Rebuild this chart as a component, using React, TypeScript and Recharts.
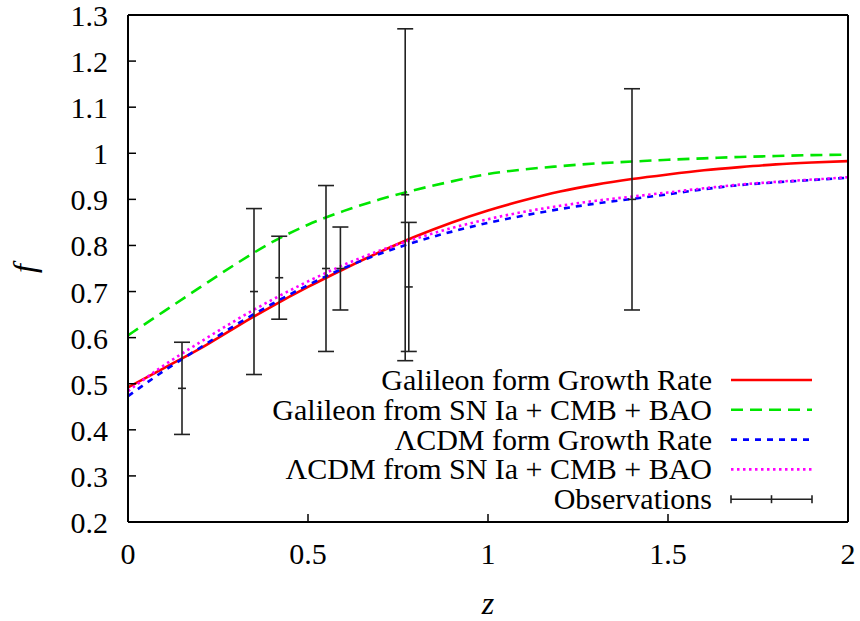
import { ComposedChart, ErrorBar, Legend, Line, Scatter, XAxis, YAxis } from "recharts";

const FONT = '"Liberation Serif"';
const textStyle = { fontFamily: FONT, fontSize: 30 };

// redshift grid the model curves are sampled on
const zGrid = [0, 0.1, 0.2, 0.3, 0.4, 0.5, 0.6, 0.7, 0.8, 0.9, 1.0, 1.1, 1.2, 1.3, 1.4, 1.5, 1.6, 1.7, 1.8, 1.9, 2.0];

const galileonGrowth = [0.492, 0.534, 0.576, 0.623, 0.668, 0.71, 0.749, 0.786, 0.82, 0.85, 0.876, 0.898, 0.917, 0.932, 0.944, 0.954, 0.963, 0.97, 0.976, 0.98, 0.983];
const galileonSn = [0.605, 0.657, 0.709, 0.76, 0.807, 0.845, 0.875, 0.9, 0.921, 0.939, 0.955, 0.965, 0.972, 0.978, 0.982, 0.986, 0.989, 0.992, 0.994, 0.996, 0.997];
const lcdmGrowth = [0.473, 0.528, 0.578, 0.628, 0.673, 0.714, 0.751, 0.782, 0.808, 0.83, 0.849, 0.865, 0.879, 0.891, 0.901, 0.911, 0.922, 0.931, 0.937, 0.942, 0.947];
const lcdmSn = [0.484, 0.54, 0.59, 0.638, 0.682, 0.722, 0.758, 0.789, 0.815, 0.838, 0.857, 0.873, 0.886, 0.897, 0.906, 0.915, 0.924, 0.932, 0.938, 0.943, 0.948];

const obsZ = [0.15, 0.35, 0.42, 0.55, 0.59, 0.77, 0.78, 1.4];
const obsF = [0.49, 0.7, 0.73, 0.75, 0.75, 0.91, 0.71, 0.9];
const obsErr = [0.1, 0.18, 0.09, 0.18, 0.09, 0.36, 0.14, 0.24];

const xTicks = [0, 0.5, 1, 1.5, 2];
const yTicks = [0.2, 0.3, 0.4, 0.5, 0.6, 0.7, 0.8, 0.9, 1, 1.1, 1.2, 1.3];

const series = [
  { name: "Galileon form Growth Rate", values: galileonGrowth, color: "#ff0000", dash: undefined },
  { name: "Galileon from SN Ia + CMB + BAO", values: galileonSn, color: "#00e600", dash: "12 7" },
  { name: "ΛCDM form Growth Rate", values: lcdmGrowth, color: "#0000ff", dash: "6 6" },
  { name: "ΛCDM from SN Ia + CMB + BAO", values: lcdmSn, color: "#ff00ff", dash: "2.5 3.5" },
];

const observations = obsZ.map((z, i) => ({ z, f: obsF[i], err: obsErr[i] }));

function LeftTick({ x, y, payload }: any) {
  return (
    <g>
      <line x1={x} x2={x + 8} y1={y} y2={y} stroke="#000" strokeWidth={1.5} />
      <text x={x - 20} y={y + 11} textAnchor="end" style={textStyle} fill="#000">
        {String(payload.value)}
      </text>
    </g>
  );
}

function BottomTick({ x, y, payload }: any) {
  return (
    <g>
      <line x1={x} x2={x} y1={y} y2={y - 8} stroke="#000" strokeWidth={1.5} />
      <text x={x} y={y + 42} textAnchor="middle" style={textStyle} fill="#000">
        {String(payload.value)}
      </text>
    </g>
  );
}

function RightTick({ x, y }: any) {
  return <line x1={x} x2={x - 8} y1={y} y2={y} stroke="#333" strokeWidth={1.5} />;
}

function TopTick({ x, y }: any) {
  return <line x1={x} x2={x} y1={y} y2={y + 8} stroke="#333" strokeWidth={1.5} />;
}

function YLabel({ viewBox }: any) {
  const cx = viewBox.x + 25;
  const cy = viewBox.y + viewBox.height / 2;
  return (
    <text
      x={cx}
      y={cy}
      dy="0.3em"
      textAnchor="middle"
      transform={`rotate(-90 ${cx} ${cy})`}
      style={{ fontFamily: FONT, fontSize: 32, fontStyle: "italic" }}
      fill="#000"
    >
      f
    </text>
  );
}

function XLabel({ viewBox }: any) {
  return (
    <text
      x={viewBox.x + viewBox.width / 2}
      y={viewBox.y + 92}
      textAnchor="middle"
      style={{ fontFamily: FONT, fontSize: 32, fontStyle: "italic" }}
      fill="#000"
    >
      z
    </text>
  );
}

function ObsMark({ cx, cy }: any) {
  return <line x1={cx - 4} x2={cx + 4} y1={cy} y2={cy} stroke="#222" strokeWidth={1.6} />;
}

function PlotLegend() {
  const rowY = (i: number) => 20 + i * 29.8;
  return (
    <svg width={500} height={160} style={{ overflow: "visible" }}>
      {series.map((s, i) => (
        <g key={s.name}>
          <text x={382} y={rowY(i) + 10} textAnchor="end" style={textStyle} fill="#000">
            {s.name}
          </text>
          <line
            x1={401}
            x2={482}
            y1={rowY(i)}
            y2={rowY(i)}
            stroke={s.color}
            strokeWidth={2.6}
            strokeDasharray={s.dash}
          />
        </g>
      ))}
      <text x={382} y={rowY(4) + 10} textAnchor="end" style={textStyle} fill="#000">
        Observations
      </text>
      <g stroke="#222" strokeWidth={1.6}>
        <line x1={401} x2={482} y1={rowY(4)} y2={rowY(4)} />
        <line x1={401} x2={401} y1={rowY(4) - 4} y2={rowY(4) + 4} />
        <line x1={441.5} x2={441.5} y1={rowY(4) - 4} y2={rowY(4) + 4} />
        <line x1={482} x2={482} y1={rowY(4) - 4} y2={rowY(4) + 4} />
      </g>
    </svg>
  );
}

export default function App() {
  return (
    <div style={{ position: "absolute", left: 0, top: 0, background: "#fff", fontFamily: FONT }}>
      <ComposedChart width={860} height={621} margin={{ top: 0, right: 0, bottom: 0, left: 0 }}>
        <XAxis
          dataKey="z"
          type="number"
          domain={[0, 2]}
          ticks={xTicks}
          interval={0}
          height={99}
          tickSize={0}
          tickMargin={0}
          tick={<BottomTick />}
          axisLine={{ stroke: "#000", strokeWidth: 2 }}
          label={<XLabel />}
        />
        <XAxis
          xAxisId="top"
          orientation="top"
          type="number"
          domain={[0, 2]}
          ticks={xTicks}
          interval={0}
          height={15}
          tickSize={0}
          tickMargin={0}
          tick={<TopTick />}
          axisLine={{ stroke: "#000", strokeWidth: 2 }}
        />
        <YAxis
          type="number"
          domain={[0.2, 1.3]}
          ticks={yTicks}
          interval={0}
          width={128}
          tickSize={0}
          tickMargin={0}
          tick={<LeftTick />}
          axisLine={{ stroke: "#000", strokeWidth: 2 }}
          label={<YLabel />}
        />
        <YAxis
          yAxisId="right"
          orientation="right"
          type="number"
          domain={[0.2, 1.3]}
          ticks={yTicks}
          interval={0}
          width={12}
          tickSize={0}
          tickMargin={0}
          tick={<RightTick />}
          axisLine={{ stroke: "#000", strokeWidth: 2 }}
        />
        {series.map((s) => (
          <Line
            key={s.name}
            data={zGrid.map((z, i) => ({ z, f: s.values[i] }))}
            dataKey="f"
            type="monotone"
            stroke={s.color}
            strokeWidth={2.6}
            strokeDasharray={s.dash}
            dot={false}
            activeDot={false}
            isAnimationActive={false}
          />
        ))}
        <Scatter data={observations} dataKey="f" shape={<ObsMark />} isAnimationActive={false}>
          <ErrorBar dataKey="err" direction="y" width={8} stroke="#222" strokeWidth={1.6} isAnimationActive={false} />
        </Scatter>
        <Legend
          layout="vertical"
          align="center"
          verticalAlign="middle"
          content={<PlotLegend />}
          wrapperStyle={{ position: "absolute", left: 330, top: 360, width: 500, height: 160 }}
        />
      </ComposedChart>
    </div>
  );
}
